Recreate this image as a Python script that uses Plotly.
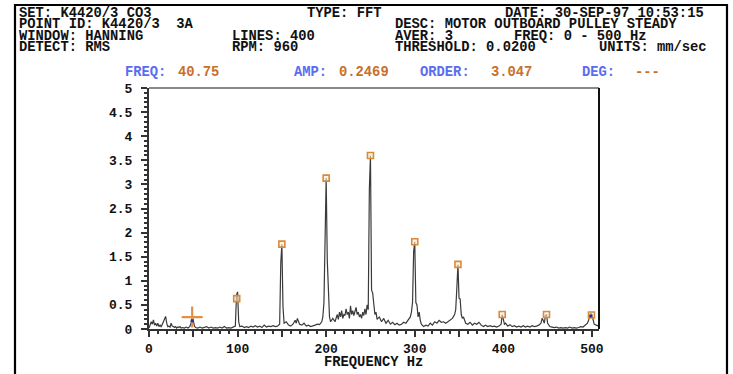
import plotly.graph_objects as go

# ---------------- data ----------------
freq = [0, 1.25, 2.5, 3.75, 5, 6.25, 7.5, 8.75, 10, 11.25, 12.5, 13.75, 15, 16.25, 17.5, 18.75, 20,
        21.25, 22.5, 23.75, 25, 26.25, 27.5, 28.75, 30, 31.25, 32.5, 33.75, 35, 36.25, 38, 40, 42, 44,
        46, 47.5, 48.75, 50, 51.25, 52.5, 55, 57.5, 60, 62.5, 65, 67.5, 70, 72.5, 75, 77.5, 80, 82.5,
        85, 87.5, 90, 92.5, 95, 97.5, 98.75, 100, 101.25, 102.5, 105, 107.5, 110, 112.5, 115, 117.5,
        120, 122.5, 125, 127.5, 130, 132.5, 135, 137.5, 140, 142.5, 145, 147.5, 148.75, 150, 151.25,
        152.5, 155, 157.5, 160, 162.5, 165, 166.25, 167.5, 170, 172.5, 175, 177.5, 180, 182.5, 185,
        187.5, 190, 192.5, 195, 196.25, 197.5, 198.75, 200, 201.25, 202.5, 203.75, 205, 207.5, 210,
        212.5, 213.75, 215, 216.25, 217.5, 218.75, 220, 221.25, 222.5, 223.75, 225, 226.25, 227.5,
        228.75, 230, 231.25, 232.5, 233.75, 235, 236.25, 237.5, 238.75, 240, 241.25, 242.5, 243.75,
        245, 246.25, 247.5, 248.75, 250, 251.25, 252.5, 253.75, 255, 256.25, 257.5, 260, 262.5, 265,
        267.5, 270, 272.5, 275, 277.5, 280, 282.5, 285, 287.5, 290, 292.5, 295, 296.25, 297.5, 298.75,
        300, 301.25, 302.5, 303.75, 305, 306.25, 307.5, 310, 312.5, 315, 317.5, 320, 322.5, 325, 327.5,
        330, 332.5, 335, 337.5, 340, 342.5, 345, 346.25, 347.5, 348.75, 350, 351.25, 352.5, 353.75,
        355, 357.5, 360, 362.5, 365, 367.5, 370, 372.5, 375, 377.5, 380, 382.5, 385, 387.5, 390, 392.5,
        395, 397.5, 398.75, 400, 401.25, 402.5, 405, 407.5, 410, 412.5, 415, 417.5, 420, 422.5, 425,
        427.5, 430, 432.5, 435, 437.5, 440, 442.5, 443.75, 445, 446.25, 447.5, 448.75, 450, 451.25,
        452.5, 455, 457.5, 460, 462.5, 465, 467.5, 470, 472.5, 475, 477.5, 480, 482.5, 485, 487.5, 490,
        492.5, 495, 496.25, 497.5, 498.75, 500, 501.25, 502.5, 505, 507.5]
amp = [0.02, 0.08, 0.15, 0.10, 0.19, 0.08, 0.12, 0.06, 0.12, 0.05, 0.08, 0.04, 0.10, 0.12, 0.20, 0.26, 0.12,
       0.05, 0.06, 0.04, 0.12, 0.06, 0.05, 0.03, 0.05, 0.02, 0.04, 0.03, 0.05, 0.02, 0.03, 0.02, 0.04, 0.02,
       0.05, 0.12, 0.25, 0.18, 0.06, 0.03, 0.02, 0.04, 0.02, 0.03, 0.05, 0.02, 0.04, 0.02, 0.03, 0.02, 0.04, 0.02,
       0.05, 0.02, 0.03, 0.02, 0.04, 0.06, 0.70, 0.77, 0.15, 0.05, 0.06, 0.03, 0.05, 0.03, 0.06, 0.04,
       0.07, 0.04, 0.06, 0.03, 0.08, 0.04, 0.06, 0.05, 0.07, 0.05, 0.06, 0.10, 1.37, 1.76, 0.46,
       0.12, 0.15, 0.08, 0.06, 0.10, 0.18, 0.12, 0.22, 0.10, 0.08, 0.12, 0.06, 0.08, 0.05, 0.06,
       0.08, 0.10, 0.09, 0.15, 0.25, 0.55, 2.05, 3.13, 1.43, 0.57, 0.25, 0.15, 0.22, 0.15,
       0.30, 0.20, 0.35, 0.25, 0.38, 0.22, 0.30, 0.28, 0.42, 0.30, 0.35, 0.22, 0.48,
       0.30, 0.38, 0.28, 0.40, 0.45, 0.30, 0.35, 0.25, 0.30, 0.22, 0.35, 0.28, 0.42,
       0.30, 0.50, 0.40, 2.90, 3.60, 0.80, 0.75, 0.45, 0.30, 0.35, 0.20, 0.25, 0.15, 0.22,
       0.12, 0.18, 0.10, 0.14, 0.09, 0.12, 0.08, 0.10, 0.14, 0.12, 0.20, 0.25, 0.35, 0.55, 1.60,
       1.81, 0.55, 0.50, 0.25, 0.35, 0.18, 0.10, 0.05, 0.08, 0.06, 0.12, 0.08, 0.15, 0.12, 0.18,
       0.14, 0.15, 0.12, 0.16, 0.18, 0.22, 0.30, 0.40, 0.84, 1.34, 0.64, 0.62, 0.30, 0.22,
       0.25, 0.12, 0.10, 0.14, 0.08, 0.12, 0.10, 0.14, 0.08, 0.05, 0.08, 0.05, 0.07, 0.05, 0.06, 0.04,
       0.06, 0.10, 0.30, 0.15, 0.10, 0.12, 0.06, 0.09, 0.05, 0.07, 0.04, 0.06, 0.04, 0.07, 0.04,
       0.06, 0.04, 0.07, 0.05, 0.06, 0.08, 0.12, 0.22, 0.18, 0.12, 0.28, 0.30, 0.12, 0.08,
       0.05, 0.04, 0.03, 0.04, 0.02, 0.03, 0.02, 0.03, 0.02, 0.04, 0.02, 0.03, 0.02, 0.03, 0.05, 0.04,
       0.08, 0.12, 0.18, 0.25, 0.33, 0.30, 0.15, 0.10, 0.08, 0.06]

peak_freq = [99, 150, 200, 250, 300, 348.75, 398.75, 448.75, 499.5]
peak_amp = [0.63, 1.76, 3.13, 3.60, 1.81, 1.34, 0.30, 0.30, 0.29]

cursor_freq = [48.75]
cursor_amp = [0.2469]

blue_freq = [48.75, 498.75]
blue_amp = [0.17, 0.27]

x_tickvals = [0, 50, 100, 150, 200, 250, 300, 350, 400, 450, 500]
x_ticktext = ["0", "", "100", "", "200", "", "300", "", "400", "", "500"]
y_tickvals = [0, 0.5, 1, 1.5, 2, 2.5, 3, 3.5, 4, 4.5, 5]
y_ticktext = ["0", "0.5", "1", "1.5", "2", "2.5", "3", "3.5", "4", "4.5", "5"]

header_rows = [
    # (text, x_px, y_px, color)
    ("SET: K4420/3 CO3", 17, 13, "#111111"),
    ("TYPE: FFT", 305, 13, "#111111"),
    ("DATE: 30-SEP-97 10:53:15", 503, 13, "#111111"),
    ("POINT ID: K4420/3  3A", 17, 24.5, "#111111"),
    ("DESC: MOTOR OUTBOARD PULLEY STEADY", 393, 24.5, "#111111"),
    ("WINDOW: HANNING", 17, 36, "#111111"),
    ("LINES: 400", 230, 36, "#111111"),
    ("AVER: 3", 393, 36, "#111111"),
    ("FREQ: 0 - 500 Hz", 512, 36, "#111111"),
    ("DETECT: RMS", 17, 47.5, "#111111"),
    ("RPM: 960", 230, 47.5, "#111111"),
    ("THRESHOLD: 0.0200", 393, 47.5, "#111111"),
    ("UNITS: mm/sec", 597, 47.5, "#111111"),
    ("FREQ:", 123, 72, "#5a6cf0"),
    ("40.75", 176, 72, "#c8702a"),
    ("AMP:", 292, 72, "#5a6cf0"),
    ("0.2469", 337, 72, "#c8702a"),
    ("ORDER:", 418, 72, "#5a6cf0"),
    ("3.047", 489, 72, "#c8702a"),
    ("DEG:", 580, 72, "#5a6cf0"),
    ("---", 633, 72, "#c8702a"),
]

# ---------------- geometry ----------------
W, H = 733, 374
L, R, T, B = 149, 599, 88, 329
pw, ph = R - L, B - T

def px(xp):
    return (xp - L) / pw

def py(yp):
    return (B - yp) / ph

MONO = "Liberation Mono, Courier New, monospace"
HDR_SIZE = 13.8

fig = go.Figure()
fig.add_trace(go.Scatter(x=freq, y=amp, mode="lines",
                         line=dict(color="#3a3a3a", width=1.2), hoverinfo="skip"))
fig.add_trace(go.Scatter(x=peak_freq, y=peak_amp, mode="markers",
                         marker=dict(symbol="square", size=6, color="rgba(255,235,210,0.6)",
                                     line=dict(color="#d98a3a", width=1.6))))
fig.add_trace(go.Scatter(x=cursor_freq, y=cursor_amp, mode="markers",
                         marker=dict(symbol="cross-thin", size=15,
                                     line=dict(color="#e0904a", width=2.2))))
fig.add_trace(go.Scatter(x=blue_freq, y=blue_amp, mode="markers",
                         marker=dict(symbol="square", size=3, color="#2030a0")))

annotations = []
for text, xp, yp, col in header_rows:
    annotations.append(dict(text=text, x=px(xp), y=py(yp), xref="paper", yref="paper",
                            xanchor="left", yanchor="middle", showarrow=False,
                            font=dict(family=MONO, size=HDR_SIZE, color=col, weight="bold")))
annotations.append(dict(text="FREQUENCY Hz", x=px(373), y=py(362), xref="paper", yref="paper",
                        xanchor="center", yanchor="middle", showarrow=False,
                        font=dict(family=MONO, size=HDR_SIZE, color="#111111", weight="bold")))

shapes = [
    # outer frame
    dict(type="rect", xref="paper", yref="paper", x0=px(15), x1=px(727), y0=py(380), y1=py(5),
         line=dict(color="#000000", width=2.2), fillcolor="rgba(0,0,0,0)", layer="below"),
    # top plot border (grey)
    dict(type="line", xref="paper", yref="paper", x0=0, x1=1, y0=1, y1=1,
         line=dict(color="#888888", width=2)),
    # right plot border (black)
    dict(type="line", xref="paper", yref="paper", x0=1, x1=1, y0=0, y1=1,
         line=dict(color="#111111", width=2)),
]

fig.update_layout(
    width=W, height=H,
    margin=dict(l=L, r=W - R, t=T, b=H - B, pad=0),
    paper_bgcolor="white", plot_bgcolor="white",
    showlegend=False,
    annotations=annotations,
    shapes=shapes,
    xaxis=dict(range=[0, 508], showgrid=False, zeroline=False,
               showline=True, linecolor="#333333", linewidth=2,
               tickmode="array", tickvals=x_tickvals, ticktext=x_ticktext,
               ticks="outside", ticklen=6, tickwidth=2, tickcolor="#333333",
               tickfont=dict(family=MONO, size=13, color="#111111", weight="bold"),
               minor=dict(dtick=10, tick0=0, ticks="outside", ticklen=3, tickwidth=1.5,
                          tickcolor="#333333", showgrid=False)),
    yaxis=dict(range=[0, 5], showgrid=False, zeroline=False,
               showline=True, linecolor="#333333", linewidth=2,
               tickmode="array", tickvals=y_tickvals, ticktext=y_ticktext,
               ticks="outside", ticklen=6, tickwidth=2, tickcolor="#333333",
               ticklabelstandoff=6,
               tickfont=dict(family=MONO, size=13, color="#111111", weight="bold"),
               minor=dict(dtick=0.1, tick0=0, ticks="outside", ticklen=3, tickwidth=1.5,
                          tickcolor="#333333", showgrid=False)),
)

fig.write_html("out.html", config={"displayModeBar": False},
               post_script="document.body.style.margin='0px';document.body.style.overflow='hidden';")
